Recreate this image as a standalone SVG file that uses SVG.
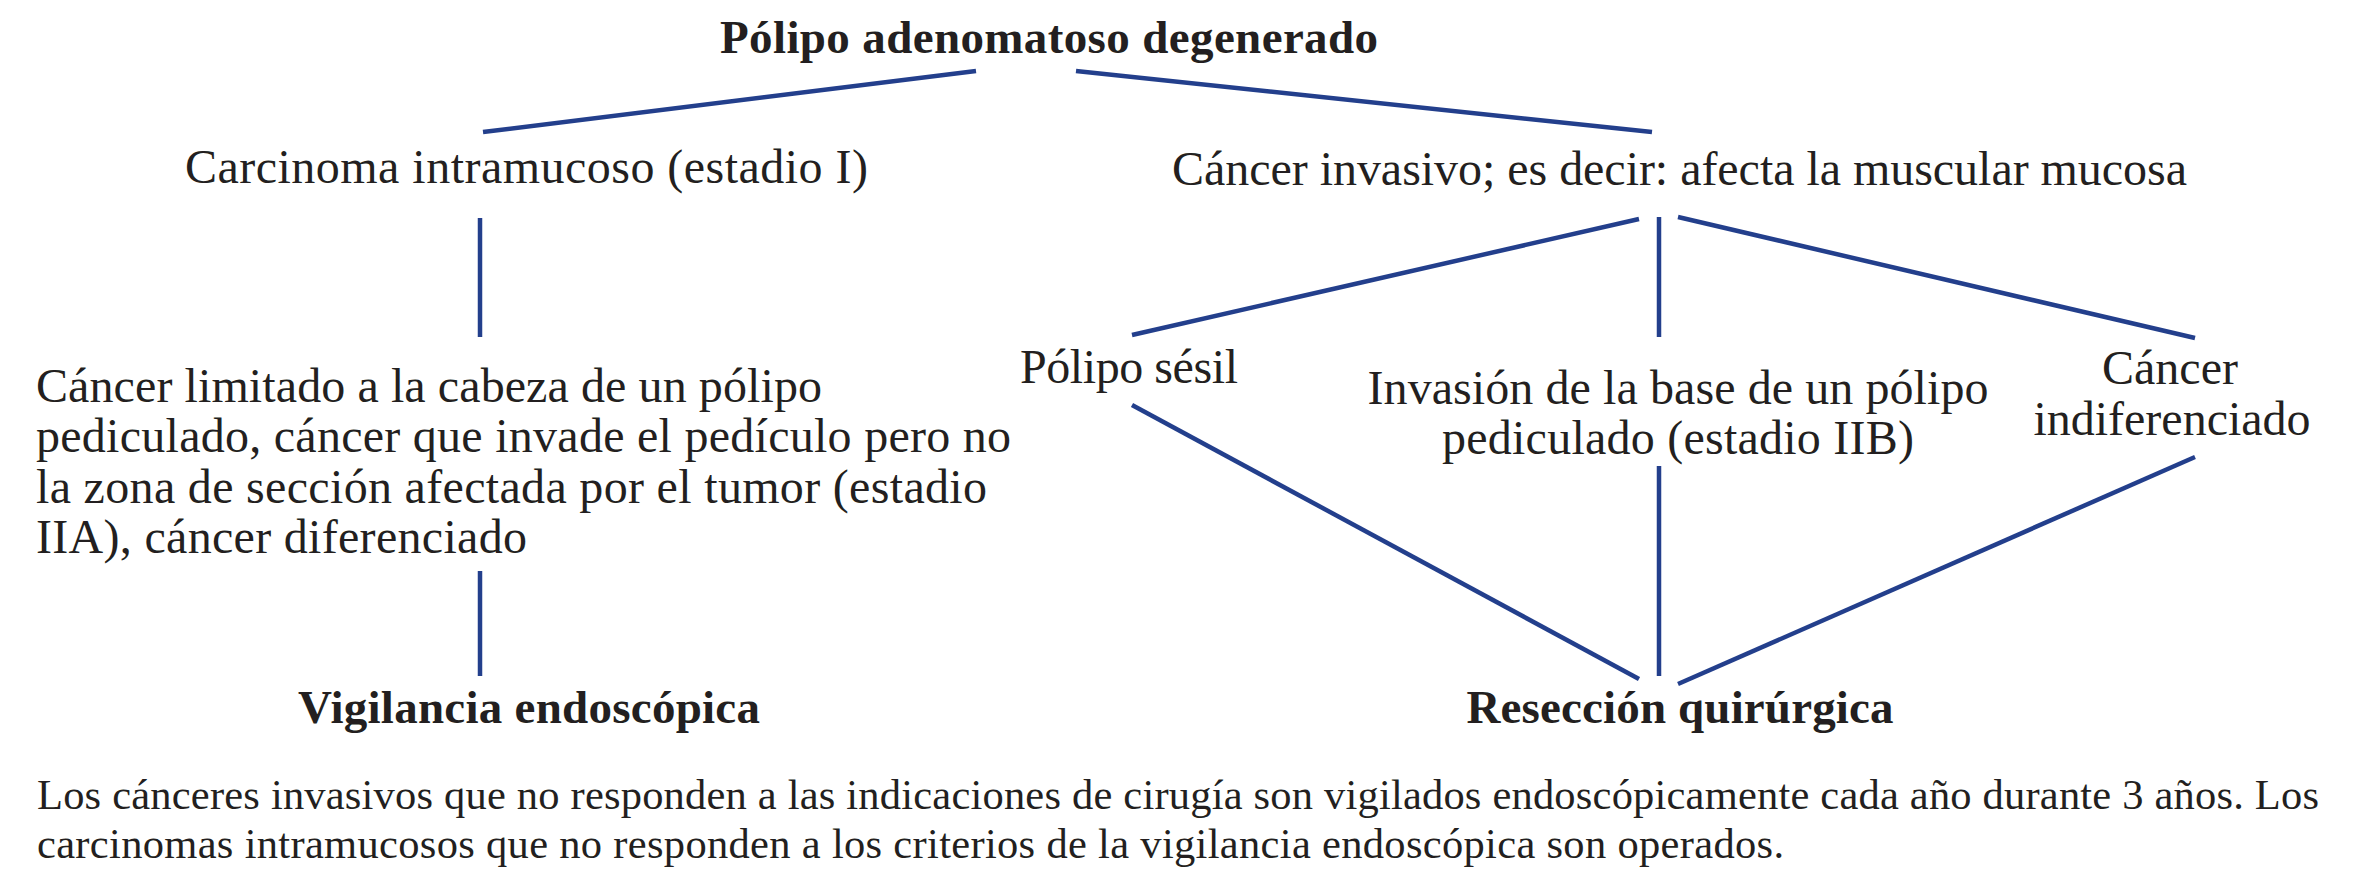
<svg xmlns="http://www.w3.org/2000/svg" width="2362" height="891" viewBox="0 0 2362 891">
<style>
  text { font-family: "Liberation Serif", "Times New Roman", serif; fill: #231f20; }
  .r { font-size: 48px; }
  .b { font-size: 47px; font-weight: bold; }
  .f { font-size: 42.5px; }
  .c { text-anchor: middle; }
  line { stroke: #233f8c; stroke-width: 4.5; stroke-linecap: butt; }
</style>
<rect width="2362" height="891" fill="#ffffff"/>
<g id="connectors">
  <line x1="976" y1="71" x2="483" y2="132"/>
  <line x1="1076" y1="71" x2="1652" y2="132"/>
  <line x1="480" y1="218" x2="480" y2="337"/>
  <line x1="480" y1="571" x2="480" y2="676"/>
  <line x1="1639" y1="219" x2="1132" y2="335"/>
  <line x1="1659" y1="217" x2="1659" y2="337"/>
  <line x1="1678" y1="217" x2="2195" y2="338"/>
  <line x1="1132" y1="405" x2="1639" y2="679"/>
  <line x1="1659" y1="466" x2="1659" y2="676"/>
  <line x1="2195" y1="457" x2="1678" y2="684"/>
</g>
<g id="n-root"><text class="b c" x="1049" y="53" textLength="658" lengthAdjust="spacing">Pólipo adenomatoso degenerado</text></g>
<g id="n-carcinoma"><text class="r" x="185" y="183" textLength="683" lengthAdjust="spacing">Carcinoma intramucoso (estadio I)</text></g>
<g id="n-invasivo"><text class="r" x="1172" y="185" textLength="1015" lengthAdjust="spacing">Cáncer invasivo; es decir: afecta la muscular mucosa</text></g>
<g id="n-limitado">
  <text class="r" x="36" y="402" textLength="786" lengthAdjust="spacing">Cáncer limitado a la cabeza de un pólipo</text>
  <text class="r" x="36" y="452" textLength="975" lengthAdjust="spacing">pediculado, cáncer que invade el pedículo pero no</text>
  <text class="r" x="36" y="503" textLength="951" lengthAdjust="spacing">la zona de sección afectada por el tumor (estadio</text>
  <text class="r" x="36" y="553" textLength="491" lengthAdjust="spacing">IIA), cáncer diferenciado</text>
</g>
<g id="n-vigilancia"><text class="b c" x="529" y="723" textLength="462" lengthAdjust="spacing">Vigilancia endoscópica</text></g>
<g id="n-sesil"><text class="r" x="1020" y="383" textLength="218" lengthAdjust="spacing">Pólipo sésil</text></g>
<g id="n-base">
  <text class="r c" x="1678" y="404" textLength="621" lengthAdjust="spacing">Invasión de la base de un pólipo</text>
  <text class="r c" x="1678" y="454" textLength="472" lengthAdjust="spacing">pediculado (estadio IIB)</text>
</g>
<g id="n-indif">
  <text class="r c" x="2170" y="384">Cáncer</text>
  <text class="r c" x="2172" y="435">indiferenciado</text>
</g>
<g id="n-reseccion"><text class="b c" x="1680" y="723" textLength="427" lengthAdjust="spacing">Resección quirúrgica</text></g>
<g id="note">
  <text class="f" x="37" y="809" textLength="2282" lengthAdjust="spacing">Los cánceres invasivos que no responden a las indicaciones de cirugía son vigilados endoscópicamente cada año durante 3 años. Los</text>
  <text class="f" x="37" y="858" textLength="1747" lengthAdjust="spacing">carcinomas intramucosos que no responden a los criterios de la vigilancia endoscópica son operados.</text>
</g>
</svg>
